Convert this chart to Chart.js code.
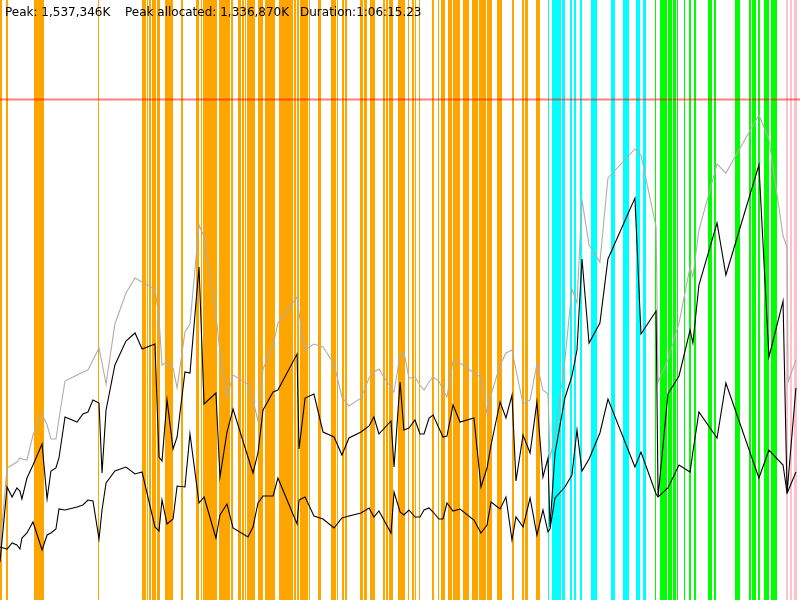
<!DOCTYPE html>
<html>
<head>
<meta charset="utf-8">
<title>Memory usage</title>
<script src="https://cdn.jsdelivr.net/npm/chart.js@4/dist/chart.umd.min.js"></script>
<style>
    html, body { margin: 0; padding: 0; background: #fff; }
    #wrap { position: relative; width: 800px; height: 600px; overflow: hidden; }
    #memChart { position: absolute; left: 0; top: 0; }
    .label {
        position: absolute;
        top: 5px;
        font-family: "DejaVu Sans", sans-serif;
        font-size: 12px;
        line-height: 15px;
        color: #000;
        white-space: pre;
    }
</style>
</head>
<body>
<div id="wrap">
    <canvas id="memChart" width="800" height="600"></canvas>
    <span class="label" style="left:5px">Peak: 1,537,346K</span>
    <span class="label" style="left:125px">Peak allocated: 1,336,870K</span>
    <span class="label" style="left:300px">Duration:1:06:15.23</span>
</div>
<script>
// run length in seconds (1:06:15.23)
const duration = 3975.23;
// memory values in MB
const peakMB = 1537346 / 1024;
const yMax = 1800;

// sample times (s)
const times = [
    0, 35, 60, 84, 99, 109, 134, 164, 209, 234, 253, 278, 293, 323, 383, 412, 437, 462, 492, 507,
    527, 571, 626, 671, 706, 770, 790, 805, 830, 860, 880, 919, 944, 989, 1014, 1073, 1093, 1128, 1158, 1232,
    1257, 1282, 1307, 1357, 1381, 1476, 1486, 1516, 1560, 1605, 1660, 1699, 1734, 1794, 1834, 1858, 1883, 1943, 1958, 1988,
    2007, 2032, 2062, 2087, 2107, 2132, 2152, 2181, 2201, 2221, 2251, 2286, 2355, 2390, 2420, 2440, 2485, 2514, 2544, 2564,
    2599, 2634, 2668, 2698, 2723, 2733, 2758, 2807, 2842, 2867, 2892, 2927, 2981, 3021, 3155, 3185, 3260, 3270, 3319, 3374,
    3429, 3443, 3473, 3563, 3607, 3771, 3821, 3891, 3911, 3916, 3955
];

// committed / peak (gray)
const committed = [
    159, 396, 405, 414, 426, 423, 420, 495, 558, 525, 483, 483, 543, 657, 675, 684, 690, 720, 756, 711,
    648, 828, 921, 966, 954, 933, 846, 705, 714, 696, 636, 804, 828, 1125, 1089, 855, 744, 609, 675, 648,
    600, 537, 693, 765, 831, 909, 861, 750, 768, 759, 708, 609, 582, 606, 666, 684, 693, 636, 624, 735,
    744, 666, 669, 645, 630, 654, 669, 657, 630, 609, 717, 711, 681, 669, 558, 615, 705, 741, 750, 690,
    588, 600, 708, 630, 618, 426, 495, 720, 933, 891, 1200, 1065, 1014, 1266, 1353, 1335, 1119, 654, 720, 831,
    999, 969, 1110, 1308, 1281, 1455, 1383, 1092, 1059, 654, 720
];

// allocated (upper black)
const allocated = [
    114, 339, 309, 336, 327, 303, 366, 405, 468, 303, 387, 396, 426, 549, 534, 558, 564, 600, 591, 381,
    570, 705, 777, 801, 753, 768, 429, 417, 600, 453, 489, 684, 681, 999, 588, 621, 369, 504, 573, 429,
    381, 441, 570, 624, 630, 738, 453, 606, 618, 504, 489, 435, 486, 504, 522, 549, 498, 537, 399, 654,
    510, 516, 540, 498, 498, 546, 555, 516, 489, 492, 585, 534, 546, 339, 396, 465, 594, 546, 615, 357,
    495, 441, 594, 369, 426, 219, 441, 606, 672, 750, 1023, 771, 831, 1023, 1206, 798, 867, 309, 618, 672,
    810, 771, 945, 1131, 975, 1305, 729, 897, 321, 357, 636
];

// live after collection (lower black)
const live = [
    159, 153, 171, 165, 153, 186, 201, 234, 150, 195, 201, 213, 273, 270, 279, 285, 300, 297, 183, 270,
    351, 387, 399, 378, 384, 219, 207, 300, 228, 243, 342, 339, 498, 291, 309, 186, 255, 288, 216, 189,
    219, 291, 312, 312, 366, 228, 300, 309, 252, 243, 216, 246, 252, 261, 276, 249, 267, 201, 324, 264,
    255, 270, 249, 249, 270, 276, 264, 243, 243, 291, 267, 273, 240, 201, 225, 294, 273, 309, 180, 249,
    219, 306, 195, 270, 204, 213, 306, 339, 375, 510, 387, 423, 501, 603, 399, 444, 318, 309, 336, 405,
    384, 444, 564, 486, 651, 366, 450, 405, 321, 327, 384
];

// collection events [start, end] in seconds
const minorGC = [
    [0, 10], [30, 40], [169, 219], [487, 494], [706, 725], [730, 735], [740, 750], [755, 775], [780, 795],
    [820, 860], [899, 909], [974, 989], [999, 1004], [1009, 1078], [1088, 1143], [1148, 1158], [1183, 1198],
    [1202, 1212], [1217, 1222], [1227, 1267], [1282, 1307], [1317, 1366], [1386, 1456], [1461, 1471],
    [1476, 1486], [1491, 1530], [1535, 1540], [1580, 1595], [1645, 1670], [1675, 1680], [1699, 1709],
    [1714, 1724], [1789, 1804], [1809, 1824], [1839, 1863], [1903, 1913], [1918, 1928], [1933, 1953],
    [1978, 2012], [2027, 2032], [2047, 2057], [2062, 2067], [2082, 2087], [2147, 2157], [2176, 2181],
    [2191, 2211], [2226, 2246], [2251, 2286], [2301, 2330], [2345, 2375], [2380, 2415], [2420, 2445],
    [2470, 2494], [2544, 2554], [2594, 2604], [2609, 2624], [2663, 2683]
];
const cmsGC = [
    [2723, 2728], [2743, 2788], [2793, 2807], [2832, 2842], [2852, 2862], [2882, 2892], [2937, 2966],
    [3036, 3056], [3096, 3126], [3160, 3180], [3195, 3210]
];
const fullGC = [
    [3255, 3260], [3280, 3314], [3319, 3339], [3344, 3359], [3364, 3369], [3399, 3404], [3424, 3434],
    [3448, 3458], [3518, 3538], [3548, 3558], [3652, 3677], [3722, 3732], [3737, 3757], [3767, 3776],
    [3796, 3821], [3831, 3861]
];
const otherGC = [[3906, 3916], [3926, 3935], [3945, 3960]];

const bandGroups = [
    ['#ffa500', minorGC],
    ['#00ffff', cmsGC],
    ['#00ff00', fullGC],
    ['#ffc0cb', otherGC]
];

const toPoints = (values) => times.map((t, i) => ({ x: t, y: values[i] }));

// vertical bars for each collection, drawn under the lines
const gcBands = {
    id: 'gcBands',
    beforeDatasetsDraw(chart) {
        const { ctx, chartArea, scales } = chart;
        ctx.save();
        bandGroups.forEach(([color, bands]) => {
            ctx.fillStyle = color;
            bands.forEach(([start, end]) => {
                // snap to whole pixels so the bars stay crisp
                const x0 = Math.round(scales.x.getPixelForValue(start));
                const x1 = Math.round(scales.x.getPixelForValue(end));
                ctx.fillRect(x0, chartArea.top, Math.max(x1 - x0, 1), chartArea.bottom - chartArea.top);
            });
        });
        ctx.restore();
    }
};

new Chart(document.getElementById('memChart'), {
    type: 'line',
    data: {
        datasets: [
            {
                label: 'Live',
                data: toPoints(live),
                borderColor: '#000',
                borderWidth: 1.1,
                order: 1
            },
            {
                label: 'Allocated',
                data: toPoints(allocated),
                borderColor: '#000',
                borderWidth: 1.1,
                order: 1
            },
            {
                label: 'Committed',
                data: toPoints(committed),
                borderColor: '#adadad',
                borderWidth: 1.1,
                order: 2
            },
            {
                label: 'Peak',
                data: [{ x: 0, y: peakMB }, { x: duration, y: peakMB }],
                borderColor: 'rgba(255, 0, 0, 0.5)',
                borderWidth: 2,
                order: 3
            }
        ]
    },
    options: {
        responsive: false,
        animation: false,
        layout: { padding: 0 },
        elements: {
            point: { radius: 0 },
            line: { tension: 0, fill: false }
        },
        plugins: {
            legend: { display: false },
            tooltip: { enabled: false },
            title: { display: false }
        },
        scales: {
            x: { type: 'linear', min: 0, max: duration, display: false },
            y: { min: 0, max: yMax, display: false }
        }
    },
    plugins: [gcBands]
});
</script>
</body>
</html>
